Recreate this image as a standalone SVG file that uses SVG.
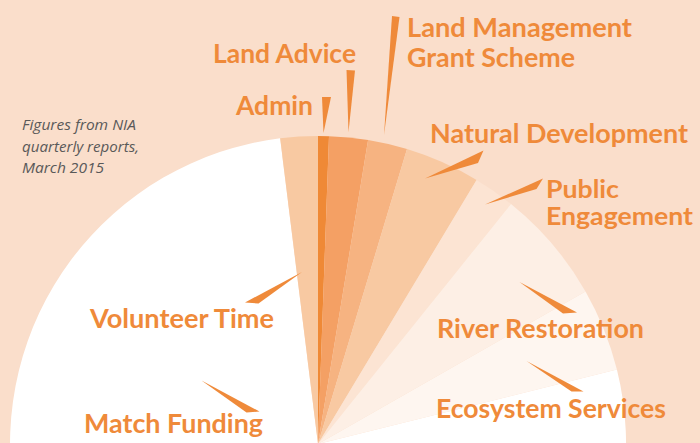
<svg xmlns="http://www.w3.org/2000/svg" width="700" height="443" viewBox="0 0 700 443">
<style>
.lbl{font-family:Lato,"Liberation Sans",Arial,sans-serif;font-weight:bold;font-size:27px;fill:#ef8a3a}
.sm{font-size:25px}
.note{font-family:"Open Sans","Liberation Sans",Arial,sans-serif;font-style:italic;font-size:14px;fill:#595959}
.ptr{fill:#ef8a3a}
</style>
<rect width="700" height="443" fill="#fadecb"/>
<g id="match-funding">
<path d="M318,444 L616.9,369.5 A308,308 0 1 1 280.15,138.3 Z" fill="#ffffff"/>
<text class="lbl" x="84" y="433" textLength="179" lengthAdjust="spacingAndGlyphs">Match Funding</text>
</g>
<g id="volunteer-time">
<path d="M318,444 L280.15,138.3 A308,308 0 0 1 318,136 Z" fill="#f8c9a2"/>
<text class="lbl" x="90" y="328" textLength="184" lengthAdjust="spacingAndGlyphs">Volunteer Time</text>
</g>
<g id="admin">
<path d="M318,444 L318,136 A308,308 0 0 1 329,136.2 Z" fill="#ef8936"/>
<text class="lbl" x="236" y="115" textLength="77" lengthAdjust="spacingAndGlyphs">Admin</text>
</g>
<g id="land-advice">
<path d="M318,444 L329,136.2 A308,308 0 0 1 368.1,140.1 Z" fill="#f4a064"/>
<text class="lbl" x="213" y="63" textLength="143" lengthAdjust="spacingAndGlyphs">Land Advice</text>
</g>
<g id="land-management">
<path d="M318,444 L368.1,140.1 A308,308 0 0 1 407,149.1 Z" fill="#f6b381"/>
<text class="lbl" x="407" y="37" textLength="225" lengthAdjust="spacingAndGlyphs">Land Management</text>
<text class="lbl" x="407" y="67" textLength="168" lengthAdjust="spacingAndGlyphs">Grant Scheme</text>
</g>
<g id="natural-development">
<path d="M318,444 L407,149.1 A308,308 0 0 1 476.6,180 Z" fill="#f8c9a2"/>
<text class="lbl" x="430" y="143" textLength="258" lengthAdjust="spacingAndGlyphs">Natural Development</text>
</g>
<g id="public-engagement">
<path d="M318,444 L476.6,180 A308,308 0 0 1 511,204 Z" fill="#fce4d3"/>
<text class="lbl sm" x="546" y="198" textLength="73" lengthAdjust="spacingAndGlyphs">Public</text>
<text class="lbl sm" x="546" y="225" textLength="147" lengthAdjust="spacingAndGlyphs">Engagement</text>
</g>
<g id="ecosystem-services">
<path d="M318,444 L585.5,291.4 A308,308 0 0 1 616.9,369.5 Z" fill="#fef6f0"/>
<text class="lbl" x="436" y="418" textLength="230" lengthAdjust="spacingAndGlyphs">Ecosystem Services</text>
</g>
<g id="river-restoration">
<path d="M318,444 L511,204 A308,308 0 0 1 585.5,291.4 Z" fill="#fdefe5"/>
<text class="lbl" x="437" y="338" textLength="207" lengthAdjust="spacingAndGlyphs">River Restoration</text>
</g>
<g id="source-note">
<text class="note" x="22" y="130" textLength="114" lengthAdjust="spacingAndGlyphs">Figures from NIA</text>
<text class="note" x="22" y="152" textLength="117" lengthAdjust="spacingAndGlyphs">quarterly reports,</text>
<text class="note" x="22" y="173" textLength="82" lengthAdjust="spacingAndGlyphs">March 2015</text>
</g>
<g id="connectors">
<polygon class="ptr" points="322,97 331,97 323.5,133"/>
<polygon class="ptr" points="346.5,70 355,70.5 348.5,132"/>
<polygon class="ptr" points="392,16 399.5,17 384,135"/>
<polygon class="ptr" points="483.5,150.5 478,163 425,178.5"/>
<polygon class="ptr" points="543,178.5 536.5,189 485,204.5"/>
<polygon class="ptr" points="519.5,282 577,312.5 563,313.5"/>
<polygon class="ptr" points="526.5,361 583.5,391.5 571.5,391.5"/>
<polygon class="ptr" points="302,272 245,302.5 258.5,303.5"/>
<polygon class="ptr" points="201.5,380.5 259.5,411.5 246.5,412.5"/>
</g>
</svg>
